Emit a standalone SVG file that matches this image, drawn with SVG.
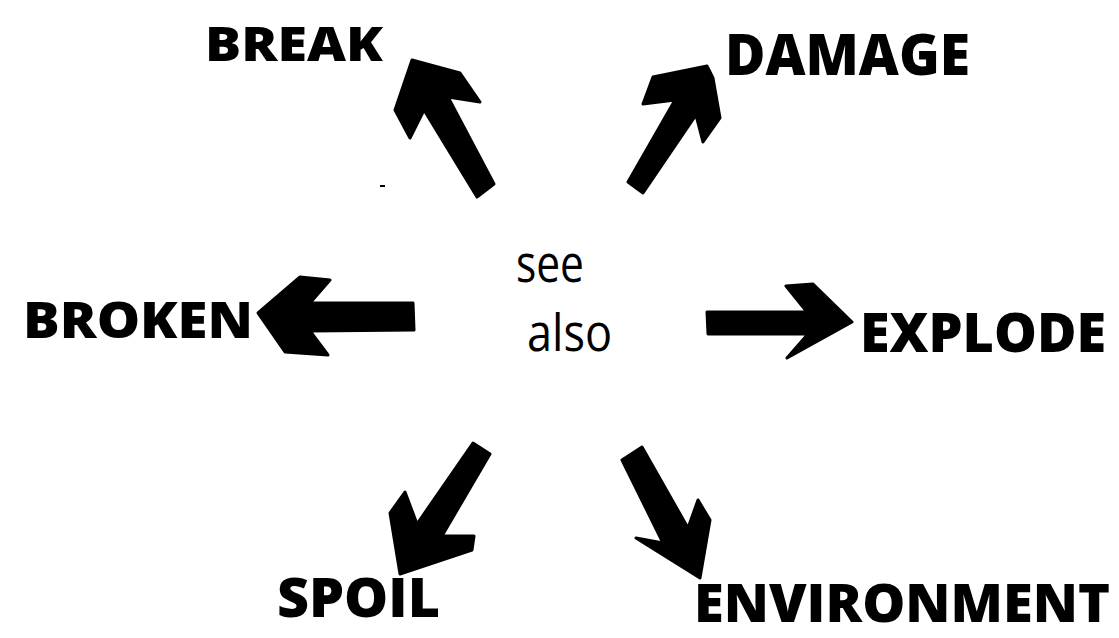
<svg xmlns="http://www.w3.org/2000/svg" width="1119" height="638" viewBox="0 0 1119 638">
<style>
.lbl{font-family:"Open Sans","Liberation Sans",sans-serif;font-weight:800;fill:#000}
.ctr{font-family:"Open Sans","Liberation Sans",sans-serif;font-weight:400;fill:#000;font-size:51px}
.arr{fill:#000;stroke:#000;stroke-width:3;stroke-linejoin:round}
</style>
<rect width="1119" height="638" fill="#fff"/>
<g id="center">
<text class="ctr" x="516" y="282" textLength="68" lengthAdjust="spacingAndGlyphs">see</text>
<text class="ctr" x="527" y="351" textLength="85" lengthAdjust="spacingAndGlyphs">also</text>
</g>
<g id="connectors">
<polygon class="arr" points="412,60 460,73 480,102 448,97 494,184 477,197 424,110 410,138 395,110"/>
<polygon class="arr" points="653,77 707,66 713,78 720,118 703,142 696,115 643,193 628,182 675,100 643,104"/>
<polygon class="arr" points="258,313 300,277 330,280 310,303 413,303 414,330 310,331 328,355 285,352"/>
<polygon class="arr" points="707,312 807,312 786,286 813,284 852,322 787,358 808,334 708,334"/>
<polygon class="arr" points="473,443 490,454 442,536 474,536 472,550 400,574 390,513 405,492 417,524"/>
<polygon class="arr" points="622,460 642,447 688,528 698,500 710,520 700,578 636,538 663,543"/>
<rect x="380" y="185" width="5" height="2" fill="#000"/>
</g>
<g id="break"><text class="lbl" x="205" y="61" font-size="48" textLength="178" lengthAdjust="spacingAndGlyphs">BREAK</text></g>
<g id="damage"><text class="lbl" x="725" y="75" font-size="57" textLength="245" lengthAdjust="spacingAndGlyphs">DAMAGE</text></g>
<g id="broken"><text class="lbl" x="23" y="338" font-size="49" textLength="230" lengthAdjust="spacingAndGlyphs">BROKEN</text></g>
<g id="explode"><text class="lbl" x="860" y="352" font-size="55" textLength="246" lengthAdjust="spacingAndGlyphs">EXPLODE</text></g>
<g id="spoil"><text class="lbl" x="277" y="617" font-size="54" textLength="163" lengthAdjust="spacingAndGlyphs">SPOIL</text></g>
<g id="environment"><text class="lbl" x="694" y="622" font-size="53" textLength="416" lengthAdjust="spacingAndGlyphs">ENVIRONMENT</text></g>
</svg>
